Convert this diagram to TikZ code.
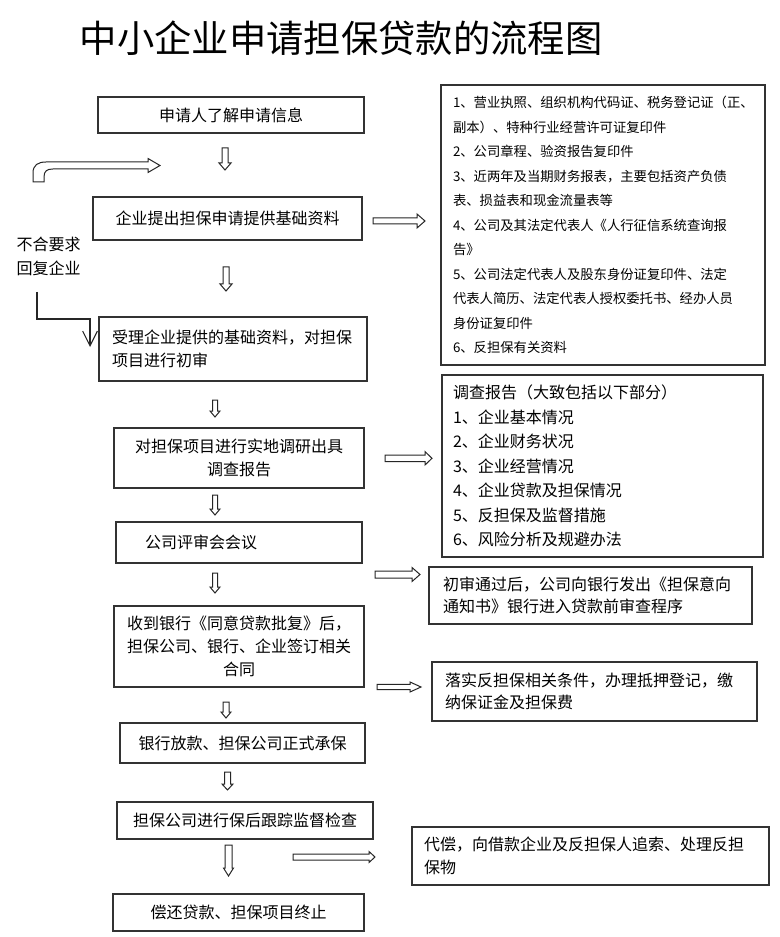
\documentclass[tikz,border=0pt]{standalone}
\usepackage{fontspec}
\setmainfont{Noto Sans CJK SC}
\usetikzlibrary{arrows.meta}
\newcommand\dnarrow[6]{% x, ytop, ytip, shaft half, head half, head length
  \draw[harrow] (#1-#4,#2) -- (#1-#4,#3-#6) -- (#1-#5,#3-#6) -- (#1,#3) -- (#1+#5,#3-#6) -- (#1+#4,#3-#6) -- (#1+#4,#2) -- cycle;}
\newcommand\rtarrow[6]{% xstart, xtip, y, shaft half, head half, head length
  \draw[harrow] (#1,#3-#4) -- (#2-#6,#3-#4) -- (#2-#6,#3-#5) -- (#2,#3) -- (#2-#6,#3+#5) -- (#2-#6,#3+#4) -- (#1,#3+#4) -- cycle;}
\tikzset{
  harrow/.style={draw=black!85, line width=0.75pt, fill=white, line join=miter},
  mainbox/.style={draw=black!80, line width=0.8pt, font=\fontsize{12pt}{17.25pt}\selectfont, inner ysep=0pt},
  sidebox/.style={draw=black!80, line width=0.8pt, font=\fontsize{12pt}{17pt}\selectfont, inner ysep=0pt, align=left},
  listbox/.style={draw=black!80, line width=0.8pt, font=\fontsize{10pt}{18.4pt}\selectfont, inner ysep=0pt, align=left},
}
\begin{document}
\begin{tikzpicture}[x=0.75pt, y=-0.75pt]
\useasboundingbox (0,0) rectangle (780,937);
\fill[white] (0,0) rectangle (780,937);

% title
\node[font=\fontsize{28pt}{30pt}\selectfont] (title) at (341,38) {中小企业申请担保贷款的流程图};

% main column
\node[mainbox, minimum width=199.5pt, minimum height=27pt, align=center] (b1) at (231,115) {申请人了解申请信息};
\node[mainbox, minimum width=201.75pt, minimum height=32.25pt, align=center] (b2) at (227.5,218.5) {企业提出担保申请提供基础资料};
\node[mainbox, minimum width=201pt, minimum height=48pt, inner xsep=9.75pt, text width=181.5pt, align=left] (b3) at (233,349) {受理企业提供的基础资料，对担保\\项目进行初审};
\node[mainbox, minimum width=187.5pt, minimum height=45pt, text width=180pt, align=center] (b4) at (239,458) {对担保项目进行实地调研出具\\调查报告};
\node[mainbox, minimum width=184.5pt, minimum height=30.75pt, inner xsep=21.75pt, text width=141pt, align=left] (b5) at (239,542.5) {公司评审会会议};
\node[mainbox, minimum width=187.5pt, minimum height=60.75pt, text width=180pt, align=center] (b6) at (239,646.5) {收到银行《同意贷款批复》后，\\担保公司、银行、企业签订相关\\合同};
\node[mainbox, minimum width=183.75pt, minimum height=30pt, align=center] (b7) at (242.5,743) {银行放款、担保公司正式承保};
\node[mainbox, minimum width=192pt, minimum height=27.75pt, align=center] (b8) at (245,820.5) {担保公司进行保后跟踪监督检查};
\node[mainbox, minimum width=188.25pt, minimum height=27.75pt, align=center] (b9) at (238.5,912.5) {偿还贷款、担保项目终止};

% side column
\node[listbox, minimum width=243pt, minimum height=210pt, inner xsep=9pt, text width=225pt] (s1) at (603,225) {1、营业执照、组织机构代码证、税务登记证（正、\\副本）、特种行业经营许可证复印件\\2、公司章程、验资报告复印件\\3、近两年及当期财务报表，主要包括资产负债\\表、损益表和现金流量表等\\4、公司及其法定代表人《人行征信系统查询报\\告》\\5、公司法定代表人及股东身份证复印件、法定\\代表人简历、法定代表人授权委托书、经办人员\\身份证复印件\\6、反担保有关资料};
\node[sidebox, font=\fontsize{12pt}{18.4pt}\selectfont, minimum width=240.75pt, minimum height=136.5pt, inner xsep=8.25pt, text width=224.25pt] (s2) at (602.5,466) {调查报告（大致包括以下部分）\\1、企业基本情况\\2、企业财务状况\\3、企业经营情况\\4、企业贷款及担保情况\\5、反担保及监督措施\\6、风险分析及规避办法};
\node[sidebox, minimum width=242.25pt, minimum height=42.75pt, inner xsep=10.5pt, text width=221.25pt] (s3) at (590.5,595.5) {初审通过后，公司向银行发出《担保意向\\通知书》银行进入贷款前审查程序};
\node[sidebox, minimum width=243.75pt, minimum height=44.25pt, inner xsep=9.75pt, text width=224.25pt] (s4) at (594.5,691.5) {落实反担保相关条件，办理抵押登记，缴\\纳保证金及担保费};
\node[sidebox, minimum width=267.75pt, minimum height=43.5pt, inner xsep=9pt, text width=249.75pt] (s5) at (590.5,856) {代偿，向借款企业及反担保人追索、处理反担\\保物};

% feedback text and line
\node[font=\fontsize{12pt}{18pt}\selectfont, align=left, inner sep=0pt] (fb) at (48.5,256) {不合要求\\回复企业};
\coordinate (fbstart) at (37,292);
\coordinate (fbcorner) at (90,319);
\coordinate (fbend) at (90,347);
\draw[black!85, line width=0.8pt, -{Straight Barb[length=11pt,width=11pt]}] (fbstart) |- (fbcorner) -- (fbend);

% bent hollow arrow
\draw[harrow] (33,182) -- (33,173) .. controls (33,165) and (38,162) .. (46,162) -- (148,162) -- (148,158.5) -- (160,165.5) -- (148,172.5) -- (148,169) -- (53,169) .. controls (47,169) and (44,171) .. (44,177) -- (44,182) -- cycle;

% down hollow arrows
\dnarrow{225}{148}{170}{3}{6}{7}
\dnarrow{226}{267}{291}{3}{6}{7}
\dnarrow{215}{400}{417}{2.5}{5}{6}
\dnarrow{215}{495}{515}{2.5}{5}{6}
\dnarrow{215}{573}{593}{2.5}{5}{6}
\dnarrow{226}{702}{718}{3}{5}{6}
\dnarrow{227.5}{772}{790}{3}{5.5}{6}
\dnarrow{228.5}{845}{876}{3.5}{5}{8}

% right hollow arrows
\rtarrow{373}{425}{221}{3}{7}{8}
\rtarrow{385}{432}{458.3}{3.3}{6.7}{7}
\rtarrow{375}{420}{574.5}{3.5}{7}{8}
\rtarrow{377}{421}{687}{2.7}{5}{11}
\rtarrow{293}{375}{857}{3}{5.5}{6}
\end{tikzpicture}
\end{document}
